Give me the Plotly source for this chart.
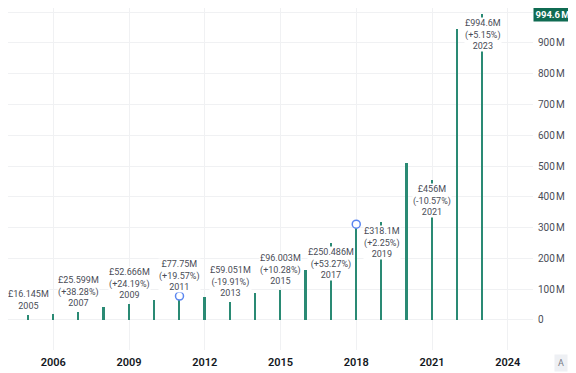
import plotly.graph_objects as go

# ---- data (values in millions GBP) ----
years = list(range(2005, 2024))
values = [16.145, 18.51, 25.599, 42.41, 52.666, 65.03, 77.75, 73.73, 59.051, 87.05,
          96.003, 163.43, 250.486, 311.1, 318.1, 509.9, 456.0, 945.9, 994.6]

label_years = [2005, 2007, 2009, 2011, 2013, 2015, 2017, 2019, 2021, 2023]
label_amounts = ["£16.145M", "£25.599M", "£52.666M", "£77.75M", "£59.051M",
                 "£96.003M", "£250.486M", "£318.1M", "£456M", "£994.6M"]
label_changes = ["", "(+38.28%)", "(+24.19%)", "(+19.57%)", "(-19.91%)",
                 "(+10.28%)", "(+53.27%)", "(+2.25%)", "(-10.57%)", "(+5.15%)"]

marker_years = [2011, 2018]

x_tick_years = [2006, 2009, 2012, 2015, 2018, 2021, 2024]
y_tick_vals = [0, 100, 200, 300, 400, 500, 600, 700, 800, 900, 1000]
y_tick_text = ["0"] + [f"{v}\u202fM" for v in y_tick_vals[1:-1]] + [""]

last_value_text = "994.6\u202fM"

BAR = "#2a8a74"
BADGE = "#0f6b52"

fig = go.Figure()

fig.add_trace(go.Bar(
    x=years, y=values, width=0.075,
    marker=dict(color=BAR, line=dict(width=0)),
    hoverinfo="skip", showlegend=False,
))

vmap = dict(zip(years, values))
fig.add_trace(go.Scatter(
    x=marker_years, y=[vmap[y] for y in marker_years], mode="markers",
    marker=dict(symbol="circle", size=8, color="white",
                line=dict(color="#5a86f0", width=1.5)),
    hoverinfo="skip", showlegend=False,
))

for yr, amt, chg in zip(label_years, label_amounts, label_changes):
    v = vmap[yr]
    parts = [amt] + ([chg] if chg else []) + [str(yr)]
    above = v < 150
    fig.add_annotation(
        x=yr, y=v, xref="x", yref="y",
        text="<br>".join(parts), showarrow=False,
        yanchor="bottom" if above else "top",
        yshift=3 if above else -3,
        bgcolor="white", borderpad=0,
        font=dict(family="Roboto", size=9, color="#4a4d57"),
        align="center",
    )

# last value badge on the price scale
fig.add_annotation(
    x=1, xref="paper", y=values[-1], yref="y",
    xanchor="left", yanchor="middle", showarrow=False,
    text=f"<b>{last_value_text}</b>", bgcolor=BADGE, borderpad=1.5,
    font=dict(family="Roboto", size=9.5, color="white"),
)

# auto-scale button label
fig.add_annotation(
    x=1, xref="paper", y=0, yref="paper", xanchor="left", yanchor="top",
    xshift=21, yshift=-4, showarrow=False, text="A",
    font=dict(family="Roboto", size=9, color="#787b86"),
    bgcolor="#eef0f4", borderpad=3,
)

fig.update_layout(
    width=568, height=365,
    margin=dict(l=0, r=43, t=0, b=23),
    paper_bgcolor="white", plot_bgcolor="white",
    bargap=0,
    xaxis=dict(
        range=[2004.208, 2025.0], tickmode="array", tickvals=x_tick_years,
        ticktext=[str(y) for y in x_tick_years],
        showgrid=True, gridcolor="#f0f1f3", gridwidth=1,
        zeroline=False, showline=False, ticks="",
        ticklabelstandoff=4,
        tickfont=dict(family="Roboto", size=11, color="#131722", weight=600),
        fixedrange=True,
    ),
    yaxis=dict(
        side="right", range=[-97.5, 1013.6], tickmode="array",
        tickvals=y_tick_vals, ticktext=y_tick_text,
        showgrid=True, gridcolor="#f0f1f3", gridwidth=1,
        zeroline=False, showline=False, ticks="",
        ticklabelstandoff=4,
        tickfont=dict(family="Roboto", size=10, color="#4a4d57"),
    ),
)

fig.write_html("out.html")
